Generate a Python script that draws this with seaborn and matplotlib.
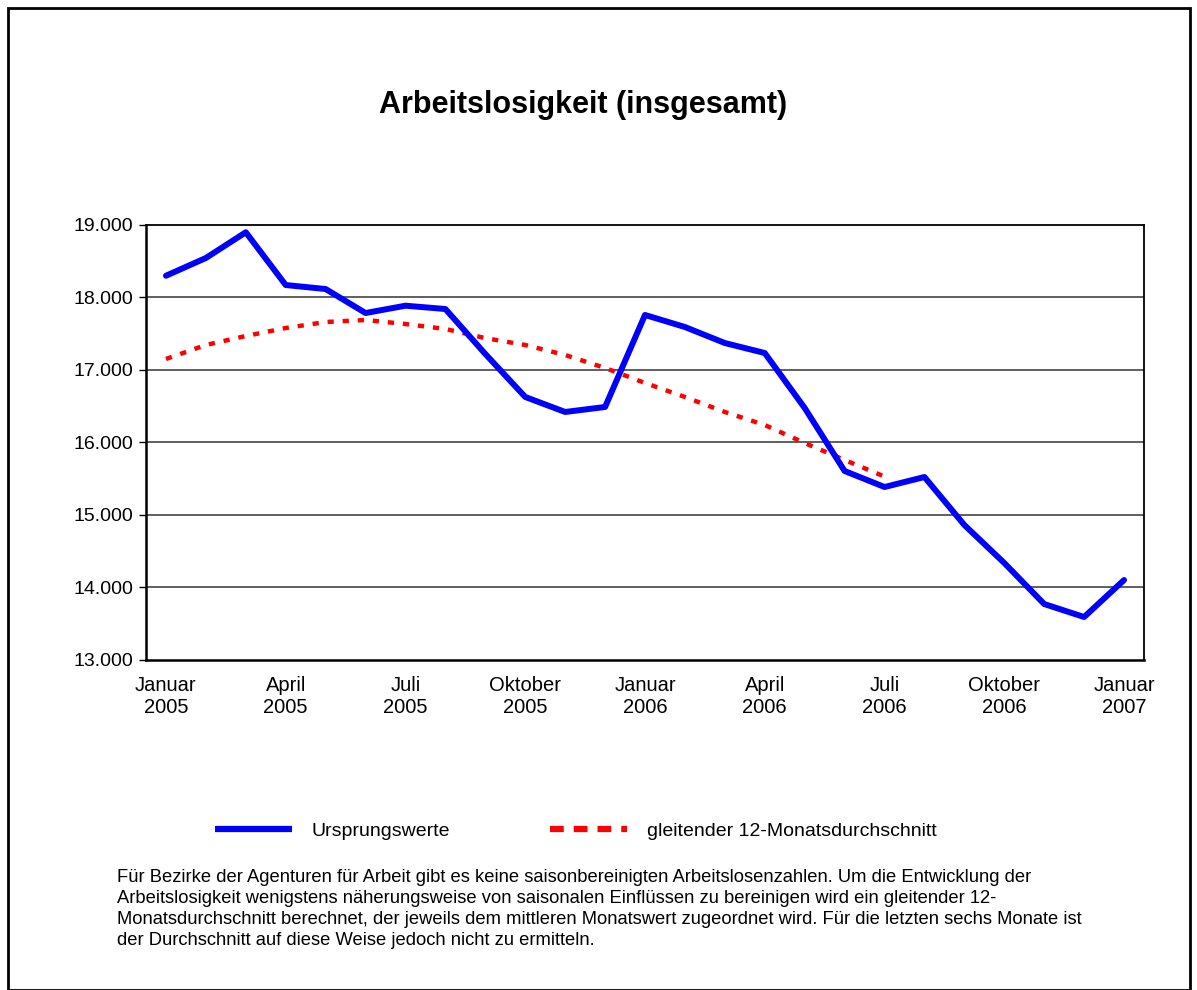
import numpy as np
import pandas as pd
import matplotlib
matplotlib.use("Agg")
import matplotlib.pyplot as plt
from matplotlib.lines import Line2D
from matplotlib.patches import Rectangle
import seaborn as sns

# ---- data ----
months = list(range(25))  # Januar 2005 .. Januar 2007
ursprung = [18300, 18545, 18900, 18172, 18117, 17786, 17887, 17841, 17221,
            16628, 16421, 16490, 17759, 17593, 17372, 17234, 16476, 15607,
            15386, 15524, 14862, 14338, 13772, 13593, 14103]
gleitend = [17152, 17345, 17469, 17579, 17662, 17690, 17634, 17566, 17440,
            17345, 17207, 17028, 16821, 16628, 16421, 16241, 15993, 15759,
            15530]
tick_pos = [0, 3, 6, 9, 12, 15, 18, 21, 24]
tick_labels = ["Januar\n2005", "April\n2005", "Juli\n2005", "Oktober\n2005",
               "Januar\n2006", "April\n2006", "Juli\n2006", "Oktober\n2006",
               "Januar\n2007"]
y_ticks = [13000, 14000, 15000, 16000, 17000, 18000, 19000]
title = "Arbeitslosigkeit (insgesamt)"
legend_labels = ["Ursprungswerte", "gleitender 12-Monatsdurchschnitt"]
footnote = ("Für Bezirke der Agenturen für Arbeit gibt es keine saisonbereinigten Arbeitslosenzahlen. Um die Entwicklung der\n"
            "Arbeitslosigkeit wenigstens näherungsweise von saisonalen Einflüssen zu bereinigen wird ein gleitender 12-\n"
            "Monatsdurchschnitt berechnet, der jeweils dem mittleren Monatswert zugeordnet wird. Für die letzten sechs Monate ist\n"
            "der Durchschnitt auf diese Weise jedoch nicht zu ermitteln.")

df1 = pd.DataFrame({"m": months, "v": ursprung})
df2 = pd.DataFrame({"m": months[:len(gleitend)], "v": gleitend})

sns.set_theme(style="white")
plt.rcParams["font.family"] = ["Liberation Sans", "DejaVu Sans"]
plt.rcParams["text.color"] = "black"
plt.rcParams["xtick.color"] = "black"
plt.rcParams["ytick.color"] = "black"

fig = plt.figure(figsize=(11.97, 9.9), dpi=100)
ax = fig.add_axes([146/1197, 1-660/990, (1144-146)/1197, (660-225)/990])

for y in y_ticks[1:-1]:
    ax.axhline(y, color="#444444", lw=1.2, zorder=0)

sns.lineplot(data=df2, x="m", y="v", ax=ax, color="#ff0000", lw=3.2,
             dashes=False, zorder=2).lines[-1].set_dashes((1.4, 2.0))
sns.lineplot(data=df1, x="m", y="v", ax=ax, color="#0000ff", lw=4.3, zorder=3)

ax.set_xlim(-0.5, 24.5)
ax.set_ylim(13000, 19000)
ax.set_xticks(tick_pos)
ax.set_xticklabels(tick_labels, fontsize=14.5, linespacing=1.22)
ax.set_yticks(y_ticks)
ax.set_yticklabels([f"{v:,}".replace(",", ".") for v in y_ticks], fontsize=14)
ax.set_xlabel("")
ax.set_ylabel("")
ax.tick_params(axis="y", length=5, width=1, color="black", direction="out", left=True, pad=4)
ax.tick_params(axis="x", length=0, pad=11.5)
for s in ax.spines.values():
    s.set_color("black")
    s.set_linewidth(1.3)
ax.spines["left"].set_linewidth(1.8)
ax.spines["bottom"].set_linewidth(1.8)

fig.text(583/1197, 1-105/990, title, ha="center", va="center", fontsize=22, fontweight="bold")

handles = [Line2D([], [], color="#0000ff", lw=4.5, solid_capstyle="butt"),
           Line2D([], [], color="#ff0000", lw=4.5, dashes=(2.2, 1.6), dash_capstyle="butt")]
fig.legend(handles, legend_labels, loc="center", bbox_to_anchor=(576/1197, 1-831/990),
           ncol=2, frameon=False, fontsize=14, handlelength=3.96, handletextpad=1.03,
           columnspacing=5.15)

fig.text(117/1197, 1-869/990, footnote, ha="left", va="top", fontsize=13.2, linespacing=1.32)

fig.patches.append(Rectangle((8/1197, 0.0), 1182/1197, 982/990, transform=fig.transFigure,
                             fill=False, edgecolor="black", lw=2))

fig.savefig("out.png", dpi=100, facecolor="white")
